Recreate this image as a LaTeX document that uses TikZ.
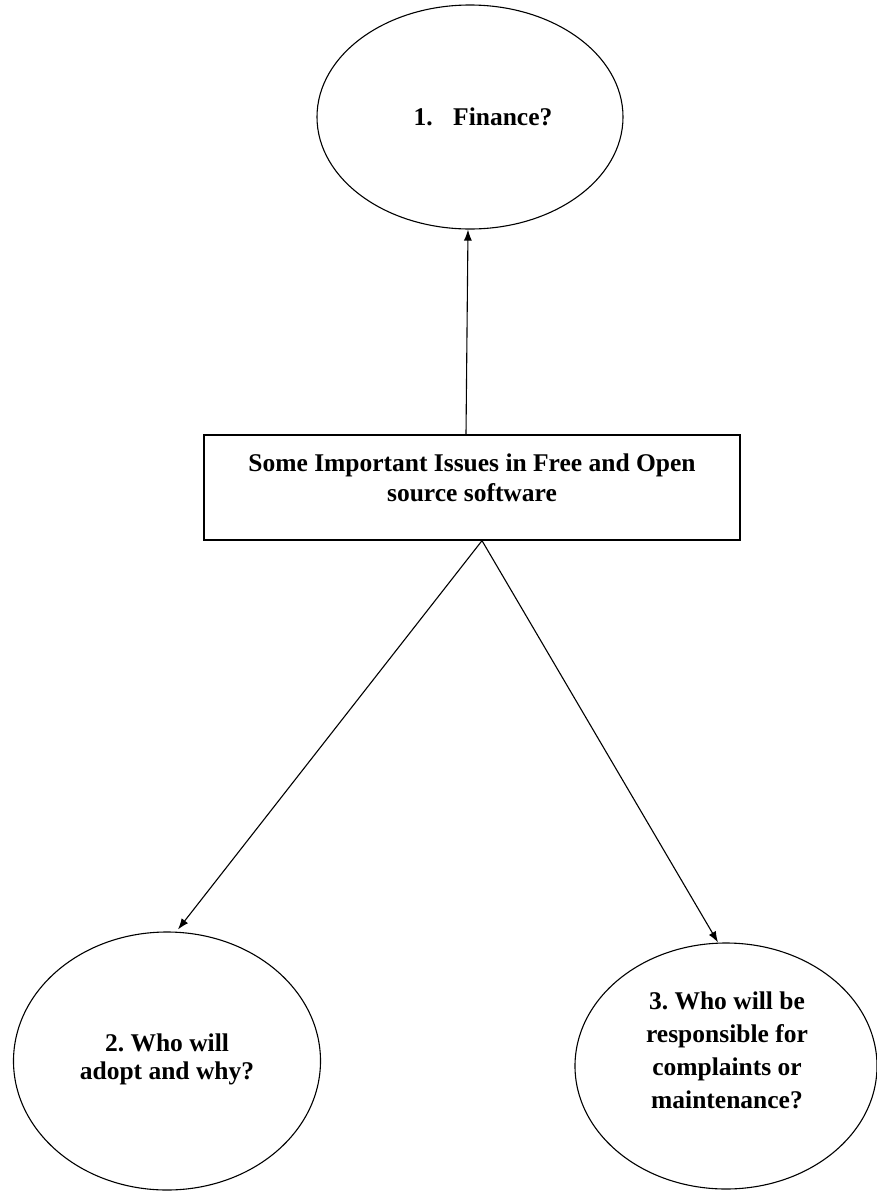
\documentclass[tikz,border=0pt]{standalone}
\usepackage{fontspec}
\setmainfont{Liberation Serif}
\usetikzlibrary{shapes.geometric,arrows.meta,calc}
\begin{document}
\frenchspacing
\begin{tikzpicture}[x=1pt,y=-1pt,
  oval/.style={draw,ellipse,line width=1.1pt,inner sep=0pt},
  boxnode/.style={draw,rectangle,line width=1.3pt,inner sep=0pt},
  txt/.style={font=\bfseries\fontsize{25.5}{30}\selectfont,align=center},
  conn/.style={line width=1.1pt,-{Latex[length=11pt,width=8pt]}}]
\useasboundingbox (0,0) rectangle (876,1192);
\node[oval,minimum width=306pt,minimum height=224pt] (e1) at (470,117) {};
\node[txt] (t1) at (483,117) {1.\hspace{0.8em}Finance?};
\node[boxnode,minimum width=536pt,minimum height=105pt] (box) at (472,487.5) {};
\node[txt] (tb) at (472,478) {Some Important Issues in Free and Open\\source software};
\node[oval,minimum width=307pt,minimum height=258pt] (e2) at (167,1061) {};
\node[txt,font=\bfseries\fontsize{25.5}{28}\selectfont] (t2) at (167,1059) {2. Who will\\adopt and why?};
\node[oval,minimum width=302pt,minimum height=246pt] (e3) at (726,1066) {};
\node[txt,font=\bfseries\fontsize{25.5}{33}\selectfont] (t3) at (727,1050) {3. Who will be\\responsible for\\complaints or\\maintenance?};
\draw[conn] ([xshift=-6pt]box.north) -- ([xshift=-2pt]e1.south);
\draw[conn] ([xshift=10pt]box.south) -- ($(e2.north)+(11,-2)$);
\draw[conn] ([xshift=10pt]box.south) -- ($(e3.north)+(-8,0)$);
\end{tikzpicture}
\end{document}
